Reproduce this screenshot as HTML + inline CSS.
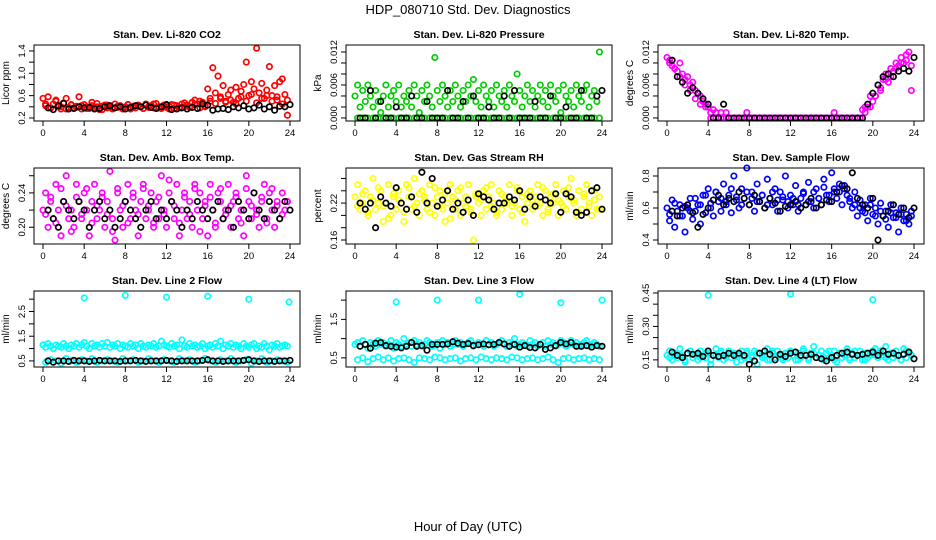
<!DOCTYPE html>
<html><head><meta charset="utf-8"><style>
html,body{margin:0;padding:0;background:#fff}
svg{display:block;font-family:"Liberation Sans",sans-serif}
</style></head><body>
<svg id="chart" width="936" height="540" viewBox="0 0 936 540" xmlns="http://www.w3.org/2000/svg">
<text x="468" y="14" text-anchor="middle" font-size="13">HDP_080710  Std. Dev. Diagnostics</text>
<text x="468" y="531" text-anchor="middle" font-size="13">Hour of Day (UTC)</text>
<g id="panels"></g>
</svg>
<script>
const xTicks=[0,4,8,12,16,20,24];
const co2A=[0.55,0.42,0.58,0.38,0.45,0.52,0.40,0.36,0.47,0.55,0.39,0.43,0.38,0.41,0.58,0.36,0.44,0.40,0.37,0.42,0.39,0.46,0.35,0.41,0.43,0.38,0.40,0.36,0.45,0.39,0.42,0.37,0.40,0.44,0.36,0.41,0.38,0.43,0.40,0.37,0.45,0.39,0.42,0.38,0.46,0.40,0.37,0.43,0.39,0.41,0.44,0.37,0.42,0.38,0.45,0.40,0.43,0.39,0.48,0.52,0.45,0.50,0.48,0.40,0.72,0.55,1.10,0.65,0.95,0.58,0.78,0.50,0.62,0.70,0.48,0.75,0.55,0.68,0.80,1.20,0.60,0.85,0.72,1.45,0.65,0.82,0.55,0.70,1.12,0.60,0.78,0.52,0.85,0.90,0.62,0.25];
const co2B=[0.45,0.38,0.50,0.40,0.36,0.44,0.39,0.42,0.37,0.48,0.40,0.35,0.43,0.38,0.41,0.36,0.44,0.39,0.42,0.37,0.40,0.45,0.38,0.41,0.36,0.43,0.39,0.47,0.40,0.44,0.38,0.42,0.50,0.46,0.55,0.48,0.52,0.45,0.58,0.50,0.62,0.47,0.55,0.60,0.50,0.58,0.45,0.52];
const co2K=[0.38,0.35,0.42,0.46,0.36,0.37,0.40,0.38,0.39,0.36,0.37,0.40,0.42,0.38,0.40,0.36,0.39,0.42,0.40,0.43,0.39,0.37,0.40,0.44,0.35,0.36,0.38,0.36,0.39,0.37,0.45,0.43,0.34,0.36,0.37,0.35,0.40,0.38,0.42,0.36,0.38,0.43,0.36,0.40,0.34,0.41,0.40,0.44];
const presA=[0.004,0.006,0.002,0.005,0.003,0.006,0.004,0.002,0.005,0.003,0.001,0.004,0.006,0.002,0.004,0.005,0.003,0.006,0.002,0.004,0.003,0.005,0.002,0.006,0.004,0.001,0.005,0.003,0.006,0.004,0.002,0.011,0.005,0.003,0.006,0.004,0.002,0.005,0.003,0.006,0.004,0.002,0.005,0.003,0.006,0.004,0.007,0.003,0.005,0.002,0.006,0.004,0.003,0.005,0.002,0.006,0.004,0.003,0.005,0.002,0.006,0.004,0.003,0.008,0.005,0.002,0.004,0.006,0.003,0.005,0.002,0.004,0.006,0.003,0.005,0.002,0.006,0.004,0.003,0.005,0.001,0.006,0.004,0.003,0.005,0.002,0.006,0.004,0.003,0.005,0.006,0.002,0.004,0.005,0.003,0.012];
const presB=[0,0,0,0,0,0,0,0,0,0,0,0,0,0,0,0,0,0,0,0,0,0,0,0,0,0,0,0,0,0,0,0,0,0,0,0,0,0,0,0,0,0,0,0,0,0,0,0];
const presK=[0,0,0.005,0,0.003,0,0,0.002,0,0,0.004,0,0,0.003,0,0,0,0.005,0,0,0.003,0,0.004,0,0,0.002,0,0,0.004,0,0.005,0,0,0,0.003,0,0,0.004,0,0,0.002,0,0,0.005,0,0,0.004,0.005];
const tempA=[0.011,0.010,0.0095,0.009,0.0085,0.010,0.008,0.007,0.0075,0.006,0.0065,0.005,0.0045,0.004,0.003,0.0025,0.002,0.001,0.0015,0.001,0,0.001,0,0.001,0,0,0,0,0,0,0,0.001,0,0,0,0,0,0,0,0,0,0,0,0,0,0,0,0,0,0,0,0,0,0,0,0,0,0,0,0,0,0,0,0,0,0.001,0,0,0,0,0,0,0,0,0,0,0.0015,0.001,0.002,0.004,0.003,0.004,0.006,0.005,0.007,0.008,0.0065,0.009,0.0085,0.010,0.0095,0.011,0.010,0.0115,0.012,0.005];
const tempB=[0.0105,0.009,0.0075,0.006,0.005,0.0035,0.0025,0.002,0,0,0,0,0,0,0,0,0,0,0,0,0,0,0,0,0,0,0,0,0,0,0,0,0,0,0,0,0,0,0.002,0.002,0.004,0.0055,0.007,0.0075,0.009,0.010,0.0105,0.0095];
const tempK=[0.0105,0.0075,0.0065,0.0045,0.0055,0.0045,0.0035,0.0025,0,0,0.0025,0,0,0,0,0,0,0,0,0,0,0,0,0,0,0,0,0,0,0,0,0,0,0,0,0,0,0,0.0025,0.0045,0.006,0.0075,0.008,0.0075,0.0085,0.009,0.0085,0.011];
const ambA=[0.22,0.24,0.20,0.23,0.21,0.25,0.22,0.19,0.23,0.26,0.21,0.22,0.20,0.25,0.23,0.21,0.24,0.22,0.19,0.23,0.25,0.21,0.22,0.24,0.20,0.23,0.265,0.21,0.185,0.24,0.22,0.20,0.23,0.25,0.21,0.24,0.22,0.19,0.23,0.25,0.21,0.22,0.24,0.20,0.23,0.21,0.26,0.22,0.20,0.24,0.23,0.21,0.25,0.19,0.22,0.24,0.21,0.23,0.20,0.25,0.22,0.24,0.21,0.23,0.19,0.25,0.22,0.20,0.24,0.23,0.21,0.22,0.25,0.20,0.23,0.24,0.21,0.22,0.19,0.26,0.23,0.21,0.24,0.22,0.20,0.23,0.25,0.21,0.24,0.22,0.20,0.23,0.21,0.24,0.22,0.23];
const ambB=[0.215,0.235,0.205,0.245,0.225,0.195,0.235,0.215,0.245,0.205,0.225,0.235,0.215,0.195,0.245,0.225,0.205,0.235,0.215,0.245,0.225,0.205,0.235,0.215,0.255,0.225,0.205,0.235,0.215,0.245,0.195,0.225,0.235,0.205,0.245,0.215,0.225,0.235,0.205,0.245,0.225,0.215,0.235,0.205,0.245,0.225,0.215,0.23];
const ambK=[0.22,0.21,0.20,0.23,0.22,0.21,0.23,0.22,0.20,0.22,0.23,0.21,0.22,0.20,0.21,0.23,0.22,0.21,0.20,0.22,0.23,0.21,0.22,0.21,0.23,0.22,0.20,0.22,0.21,0.23,0.22,0.21,0.22,0.23,0.21,0.22,0.20,0.23,0.22,0.21,0.24,0.22,0.21,0.23,0.22,0.21,0.23,0.22];
const rhA=[0.23,0.25,0.21,0.22,0.24,0.20,0.23,0.26,0.21,0.22,0.24,0.19,0.22,0.25,0.20,0.23,0.21,0.24,0.22,0.19,0.25,0.23,0.21,0.26,0.22,0.20,0.24,0.23,0.21,0.25,0.22,0.20,0.23,0.24,0.21,0.19,0.22,0.25,0.23,0.21,0.24,0.20,0.22,0.23,0.25,0.21,0.16,0.23,0.22,0.20,0.24,0.21,0.23,0.25,0.22,0.20,0.24,0.21,0.23,0.22,0.25,0.20,0.22,0.24,0.21,0.23,0.19,0.22,0.24,0.21,0.23,0.25,0.22,0.20,0.24,0.21,0.23,0.22,0.25,0.20,0.22,0.24,0.21,0.23,0.26,0.22,0.20,0.24,0.21,0.23,0.25,0.22,0.20,0.24,0.21,0.23];
const rhB=[0.215,0.235,0.205,0.225,0.245,0.215,0.195,0.235,0.225,0.205,0.245,0.215,0.235,0.225,0.205,0.245,0.215,0.235,0.195,0.225,0.245,0.215,0.205,0.235,0.225,0.245,0.215,0.205,0.235,0.225,0.215,0.245,0.205,0.235,0.225,0.215,0.245,0.205,0.235,0.225,0.215,0.245,0.225,0.205,0.235,0.215,0.225,0.21];
const rhK=[0.22,0.21,0.22,0.18,0.23,0.22,0.215,0.245,0.22,0.21,0.23,0.205,0.27,0.22,0.26,0.215,0.225,0.24,0.21,0.22,0.205,0.225,0.2,0.235,0.23,0.225,0.21,0.22,0.22,0.23,0.225,0.24,0.21,0.23,0.215,0.23,0.225,0.22,0.235,0.205,0.235,0.23,0.205,0.2,0.205,0.24,0.245,0.21];
const flowA=[0.60,0.52,0.65,0.48,0.58,0.62,0.55,0.45,0.60,0.66,0.53,0.58,0.62,0.50,0.68,0.57,0.72,0.60,0.55,0.70,0.64,0.58,0.75,0.62,0.68,0.57,0.80,0.65,0.60,0.72,0.66,0.85,0.62,0.70,0.58,0.75,0.64,0.68,0.60,0.78,0.66,0.62,0.72,0.58,0.70,0.65,0.80,0.60,0.68,0.62,0.74,0.58,0.66,0.70,0.62,0.76,0.64,0.60,0.72,0.66,0.62,0.78,0.68,0.64,0.82,0.70,0.66,0.75,0.62,0.72,0.68,0.64,0.60,0.70,0.55,0.65,0.58,0.62,0.52,0.66,0.56,0.60,0.50,0.63,0.55,0.58,0.48,0.62,0.54,0.57,0.45,0.60,0.52,0.56,0.50,0.58];
const flowB=[0.56,0.63,0.55,0.61,0.58,0.66,0.62,0.68,0.63,0.70,0.66,0.64,0.72,0.67,0.62,0.70,0.66,0.64,0.68,0.62,0.70,0.65,0.67,0.64,0.66,0.62,0.69,0.64,0.70,0.66,0.73,0.68,0.72,0.70,0.74,0.66,0.62,0.60,0.57,0.62,0.55,0.58,0.53,0.57,0.54,0.56,0.52,0.55];
const flowK=[0.58,0.55,0.60,0.62,0.57,0.48,0.56,0.60,0.65,0.68,0.62,0.66,0.64,0.70,0.66,0.62,0.68,0.64,0.60,0.66,0.63,0.58,0.61,0.62,0.64,0.60,0.62,0.66,0.60,0.62,0.65,0.64,0.70,0.74,0.72,0.82,0.66,0.62,0.60,0.66,0.40,0.55,0.58,0.62,0.56,0.60,0.54,0.60];
const l2A=[1.15,1.05,1.2,1.1,1.0,1.15,1.1,1.05,1.2,1.1,1.0,1.15,1.1,1.2,1.05,1.15,1.25,1.1,1.0,1.2,1.1,1.15,1.05,1.2,1.1,1.25,1.05,1.15,1.1,1.2,1.0,1.15,1.1,1.05,1.2,1.1,1.15,1.0,1.2,1.1,1.05,1.15,1.1,1.2,1.05,1.1,1.3,1.15,1.1,1.05,1.2,1.1,1.15,1.0,1.35,1.1,1.05,1.2,1.1,1.15,1.05,1.1,1.2,1.0,1.1,1.15,1.05,1.2,1.1,1.3,1.0,1.15,1.1,1.2,1.05,1.15,1.1,1.0,1.2,1.1,1.05,1.15,1.2,1.0,1.1,1.05,1.2,1.1,0.95,1.15,1.1,1.2,1.05,1.1,1.15,1.1];
const l2B=[0.45,0.55,0.5,0.4,0.6,0.5,0.45,0.55,0.5,0.6,0.45,0.5,0.55,0.5,0.45,0.6,0.5,0.55,0.45,0.5,0.6,0.5,0.45,0.55,0.5,0.45,0.6,0.5,0.55,0.45,0.5,0.6,0.5,0.45,0.55,0.5,0.6,0.45,0.5,0.55,0.4,0.5,0.6,0.45,0.5,0.55,0.5,0.45];
const l2K=[0.5,0.45,0.5,0.5,0.48,0.52,0.5,0.5,0.48,0.5,0.52,0.5,0.5,0.5,0.48,0.5,0.5,0.52,0.5,0.48,0.5,0.5,0.5,0.52,0.5,0.48,0.5,0.5,0.5,0.5,0.52,0.55,0.5,0.5,0.48,0.5,0.5,0.5,0.52,0.55,0.5,0.48,0.5,0.5,0.48,0.5,0.5,0.52];
const l2OutH=[4,8,12,16,20,23.9];
const l2OutV=[3.05,3.15,3.08,3.12,3.0,2.88];
const l3A=[0.85,0.9,0.8,0.95,0.85,0.75,0.9,0.85,0.8,0.95,0.85,0.9,0.8,0.85,0.95,0.75,0.9,0.85,0.8,1.0,0.85,0.9,0.8,0.95,0.85,0.9,0.8,0.85,0.95,0.9,0.8,0.85,0.9,0.75,0.95,0.85,0.9,0.8,0.85,0.95,0.85,0.9,0.8,0.85,0.9,0.95,0.8,0.85,0.9,0.85,0.8,0.95,0.85,0.9,0.8,0.85,0.9,0.95,0.85,0.8,0.9,0.85,1.0,0.8,0.85,0.9,0.85,0.8,0.95,0.85,0.9,0.8,0.85,0.9,0.8,0.95,0.85,0.9,0.8,0.85,0.95,0.9,0.8,0.85,0.95,0.85,0.9,0.8,0.85,0.9,0.95,0.8,0.85,0.9,0.85,0.8];
const l3B=[0.45,0.5,0.4,0.48,0.52,0.45,0.5,0.42,0.48,0.5,0.45,0.38,0.5,0.48,0.45,0.52,0.5,0.45,0.48,0.5,0.42,0.48,0.5,0.45,0.52,0.48,0.45,0.5,0.48,0.45,0.52,0.5,0.45,0.48,0.5,0.45,0.48,0.52,0.45,0.38,0.48,0.5,0.45,0.48,0.5,0.45,0.48,0.45];
const l3K=[0.8,0.85,0.75,0.88,0.9,0.82,0.8,0.78,0.76,0.8,0.9,0.8,0.82,0.7,0.85,0.85,0.85,0.86,0.92,0.88,0.85,0.87,0.82,0.84,0.86,0.84,0.85,0.9,0.86,0.8,0.85,0.78,0.82,0.77,0.76,0.85,0.72,0.76,0.82,0.9,0.86,0.9,0.8,0.8,0.82,0.78,0.82,0.8];
const l3OutH=[4,8,12,16,20,24];
const l3OutV=[1.95,2.0,2.0,2.15,1.93,2.0];
const l4A=[0.17,0.19,0.15,0.18,0.16,0.2,0.17,0.14,0.18,0.19,0.16,0.17,0.15,0.19,0.17,0.16,0.18,0.13,0.17,0.2,0.16,0.18,0.15,0.17,0.19,0.16,0.18,0.14,0.17,0.19,0.16,0.18,0.15,0.17,0.19,0.13,0.18,0.16,0.17,0.2,0.15,0.18,0.16,0.19,0.17,0.15,0.18,0.16,0.19,0.17,0.15,0.18,0.16,0.2,0.17,0.15,0.18,0.21,0.16,0.17,0.19,0.15,0.18,0.16,0.17,0.19,0.14,0.18,0.16,0.17,0.2,0.15,0.18,0.16,0.17,0.19,0.15,0.18,0.16,0.17,0.19,0.2,0.16,0.18,0.17,0.21,0.15,0.18,0.16,0.19,0.17,0.15,0.2,0.16,0.18,0.17];
const l4B=[0.16,0.18,0.17,0.15,0.19,0.17,0.16,0.18,0.15,0.17,0.19,0.16,0.18,0.17,0.15,0.19,0.16,0.18,0.17,0.15,0.19,0.17,0.16,0.18,0.17,0.15,0.19,0.16,0.18,0.17,0.16,0.19,0.15,0.18,0.17,0.16,0.19,0.17,0.15,0.18,0.17,0.19,0.16,0.18,0.17,0.15,0.19,0.17];
const l4K=[0.185,0.17,0.16,0.18,0.175,0.18,0.165,0.19,0.17,0.165,0.17,0.18,0.17,0.18,0.17,0.13,0.145,0.18,0.19,0.175,0.15,0.175,0.165,0.18,0.185,0.17,0.17,0.175,0.16,0.155,0.145,0.16,0.17,0.18,0.185,0.175,0.17,0.175,0.18,0.185,0.17,0.19,0.175,0.18,0.17,0.175,0.185,0.155];
const l4OutH=[4,12,20];
const l4OutV=[0.44,0.445,0.42];

const panels=[
 {id:'co2',col:0,row:0,title:'Stan. Dev. Li-820 CO2',ylab:'Licor ppm',lo:0.146,hi:1.507,ticks:[0.2,0.4,0.6,0.8,1.0,1.2,1.4],labs:['0.2','','0.6','','1.0','','1.4'],color:'#ff0000',A:co2A,B:co2B,K:co2K},
 {id:'pressure',col:1,row:0,title:'Stan. Dev. Li-820 Pressure',ylab:'kPa',lo:-0.00055,hi:0.01327,ticks:[0,0.002,0.004,0.006,0.008,0.010,0.012],labs:['0.000','','','0.006','','','0.012'],color:'#00cc00',A:presA,B:presB,K:presK},
 {id:'temp',col:2,row:0,title:'Stan. Dev. Li-820 Temp.',ylab:'degrees C',lo:-0.00055,hi:0.01327,ticks:[0,0.002,0.004,0.006,0.008,0.010,0.012],labs:['0.000','','','0.006','','','0.012'],color:'#ff00ff',A:tempA,B:tempB,K:tempK},
 {id:'ambbox',col:0,row:1,title:'Stan. Dev. Amb. Box Temp.',ylab:'degrees C',lo:0.1805,hi:0.269,ticks:[0.20,0.22,0.24,0.26],labs:['0.20','','0.24',''],color:'#ff00ff',A:ambA,B:ambB,K:ambK},
 {id:'rh',col:1,row:1,title:'Stan. Dev. Gas Stream RH',ylab:'percent',lo:0.1535,hi:0.277,ticks:[0.16,0.18,0.20,0.22,0.24,0.26],labs:['0.16','','','0.22','',''],color:'#ffff00',A:rhA,B:rhB,K:rhK},
 {id:'sampleflow',col:2,row:1,title:'Stan. Dev. Sample Flow',ylab:'ml/min',lo:0.375,hi:0.85,ticks:[0.4,0.5,0.6,0.7,0.8],labs:['0.4','','0.6','','0.8'],color:'#0000ff',A:flowA,B:flowB,K:flowK},
 {id:'line2',col:0,row:2,title:'Stan. Dev. Line 2 Flow',ylab:'ml/min',lo:0.254,hi:3.33,ticks:[0.5,1.0,1.5,2.0,2.5,3.0],labs:['0.5','','1.5','','2.5',''],color:'#00ffff',A:l2A,B:l2B,K:l2K,OH:l2OutH,OV:l2OutV},
 {id:'line3',col:1,row:2,title:'Stan. Dev. Line 3 Flow',ylab:'ml/min',lo:0.263,hi:2.237,ticks:[0.5,1.0,1.5,2.0],labs:['0.5','','1.5',''],color:'#00ffff',A:l3A,B:l3B,K:l3K,OH:l3OutH,OV:l3OutV},
 {id:'line4',col:2,row:2,title:'Stan. Dev. Line 4 (LT) Flow',ylab:'ml/min',lo:0.118,hi:0.459,ticks:[0.15,0.20,0.25,0.30,0.35,0.40,0.45],labs:['0.15','','','0.30','','','0.45'],color:'#00ffff',A:l4A,B:l4B,K:l4K,OH:l4OutH,OV:l4OutV}
];
const NS='http://www.w3.org/2000/svg';
const root=document.getElementById('panels');
function mk(tag,attrs,parent){const e=document.createElementNS(NS,tag);for(const k in attrs)e.setAttribute(k,attrs[k]);parent.appendChild(e);return e;}
panels.forEach(p=>{
 const L=34+312*p.col,R=300+312*p.col,T=45+123*p.row,B=T+76;
 const xs=h=>43+312*p.col+h*(247/24);
 const ys=v=>B-(v-p.lo)/(p.hi-p.lo)*(B-T);
 const g=mk('g',{},root);
 
 
 const t=mk('text',{x:(L+R)/2,y:T-7,'text-anchor':'middle','font-size':'10.5','font-weight':'bold'},g);
 
 
 t.textContent=p.title;
 const yl=mk('text',{transform:`translate(${L-25},${(T+B)/2}) rotate(-90)`,'text-anchor':'middle','font-size':'10'},g);
 
 
 yl.textContent=p.ylab;
 const ax=mk('g',{stroke:'#000','stroke-width':'1',fill:'none'},g);
 
 
 mk('path',{d:xTicks.map(h=>`M${xs(h)},${B}V${B+5}`).join('')},ax);
 p.ticks.forEach(v=>mk('path',{d:`M${L},${ys(v)}H${L-5}`},ax));
 xTicks.forEach(h=>{const e=mk('text',{x:xs(h),y:B+15,'text-anchor':'middle','font-size':'9.5'},g);
  
  
  e.textContent=h;});
 p.ticks.forEach((v,i)=>{if(!p.labs[i])return;const e=mk('text',{transform:`translate(${L-9},${ys(v)}) rotate(-90)`,'text-anchor':'middle','font-size':'9.5'},g);
  
  
  e.textContent=p.labs[i];});
 const pts=mk('g',{fill:'none','stroke-width':'1.7'},g);
 
 
 const dot=(h,v,c)=>{const e=mk('circle',{cx:xs(h).toFixed(1),cy:ys(v).toFixed(1),r:'2.7',stroke:c},pts);
  
  };
 p.A.forEach((v,i)=>dot(i*0.25,v,p.color));
 p.B.forEach((v,i)=>dot(0.25+i*0.5,v,p.color));
 if(p.OH)p.OH.forEach((h,i)=>dot(h,p.OV[i],p.color));
 p.K.forEach((v,i)=>dot(0.5+i*0.5,v,'#000'));
 const box=mk('rect',{x:L,y:T,width:R-L,height:B-T,fill:'none',stroke:'#000','stroke-width':'1'},g);
 
 
});
</script>
</body></html>
